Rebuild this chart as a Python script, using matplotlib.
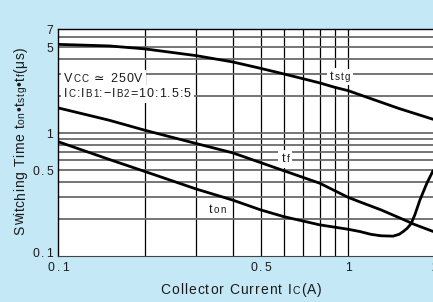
import numpy as np
import matplotlib
matplotlib.use('Agg')
import matplotlib.pyplot as plt
from matplotlib.ticker import NullLocator
from matplotlib.transforms import offset_copy

plt.rcParams['font.family'] = ['Liberation Sans', 'DejaVu Sans']

# curves: Ic (A) -> time (us)
ic_stg = [0.1, 0.15, 0.2, 0.3, 0.4, 0.5, 0.6, 0.7, 0.8, 0.9, 1.0, 1.2, 1.5, 1.97]
t_stg = [5.25, 5.1, 4.82, 4.25, 3.78, 3.35, 3.02, 2.76, 2.55, 2.35, 2.21, 1.9, 1.58, 1.29]

ic_f = [0.1, 0.15, 0.2, 0.3, 0.4, 0.5, 0.6, 0.8, 1.0, 1.1, 1.3, 1.5, 1.7, 1.97]
t_f = [1.6, 1.27, 1.05, 0.82, 0.69, 0.574, 0.494, 0.39, 0.30, 0.275, 0.237, 0.205, 0.18, 0.158]

ic_on = [0.1, 0.15, 0.2, 0.3, 0.4, 0.5, 0.6, 0.8, 1.0, 1.1, 1.2, 1.3, 1.43, 1.5,
         1.55, 1.6, 1.65, 1.7, 1.77, 1.87, 1.97]
t_on = [0.85, 0.61, 0.485, 0.35, 0.285, 0.237, 0.209, 0.179, 0.165, 0.158, 0.15, 0.146,
        0.145, 0.15, 0.158, 0.168, 0.183, 0.216, 0.285, 0.39, 0.5]

x_ticks = [0.1, 0.5, 1, 2]
x_ticklabels = ['0.1', '0.5', '1', '2']
y_ticks = [0.1, 0.5, 1, 5, 7]
y_ticklabels = ['0.1', '0.5', '1', '5', '7']
x_grid = [0.2, 0.3, 0.4, 0.5, 0.6, 0.7, 0.8, 0.9, 1, 2]
y_grid = [0.2, 0.3, 0.4, 0.5, 0.6, 0.7, 0.8, 0.9, 1, 2, 3, 4, 5, 6]

bg = '#c5e8f7'
ink = '#1a1a1a'

fig = plt.figure(figsize=(4.33, 3.02), dpi=100, facecolor=bg)
ax = fig.add_axes([58 / 433, 46 / 302, 377.3 / 433, 227 / 302])
ax.set_facecolor('white')
ax.set_xscale('log')
ax.set_yscale('log')
ax.set_xlim(0.1, 2)
ax.set_ylim(0.1, 7)

for v in x_grid:
    ax.axvline(v, color='black', lw=0.9, zorder=1)
for v in y_grid:
    ax.axhline(v, color='#6a6a6a', lw=1.3, zorder=1)

for xs, ys in [(ic_stg, t_stg), (ic_f, t_f), (ic_on, t_on)]:
    ax.plot(xs, ys, color='black', lw=2.0, zorder=5, solid_capstyle='butt')

ax.xaxis.set_major_locator(NullLocator())
ax.xaxis.set_minor_locator(NullLocator())
ax.yaxis.set_major_locator(NullLocator())
ax.yaxis.set_minor_locator(NullLocator())

for s in ['left', 'top']:
    ax.spines[s].set_color('black')
    ax.spines[s].set_linewidth(1.0)
ax.spines['bottom'].set_color('#444444')
ax.spines['right'].set_visible(False)

renderer = fig.canvas.get_renderer()


def adv(s, fs):
    # advance width of s in points
    a = fig.text(0, 0, '|' + s + '|', fontsize=fs)
    b = fig.text(0, 0, '||', fontsize=fs)
    w = a.get_window_extent(renderer).width - b.get_window_extent(renderer).width
    a.remove()
    b.remove()
    return w * 72 / fig.dpi


def rich(host, x, y, parts, trans, rotation=0, align='left', box=False, track=0.75):
    # letter-spaced text built from pieces of different size on one baseline
    chars = [(c, fs) for s, fs in parts for c in s]
    advs = [adv(c, fs) for c, fs in chars]
    total = sum(advs) + track * (len(chars) - 1)
    start = {'left': 0, 'center': -total / 2, 'right': -total}[align]
    for with_box in ([True, False] if box else [False]):
        off = start
        for (c, fs), a in zip(chars, advs):
            dx, dy = (0, off) if rotation else (off, 0)
            tr = offset_copy(trans, fig=fig, x=dx, y=dy, units='points')
            if with_box:
                host.text(x, y, c, fontsize=fs, transform=tr, ha='left', va='baseline',
                          color='white', zorder=3,
                          bbox=dict(facecolor='white', edgecolor='none', pad=2.4))
            elif c != ' ':
                host.text(x, y, c, fontsize=fs, transform=tr, rotation=rotation,
                          rotation_mode='anchor', ha='left', va='baseline',
                          color=ink, zorder=4)
            off += a + track


# tick labels
xt = offset_copy(ax.get_xaxis_transform(), fig=fig, y=-10.8, units='points')
for v, lab in zip(x_ticks, x_ticklabels):
    rich(fig, v, 0, [(lab, 8.8)], xt, align='center', track=1.4)
for v, lab in zip(y_ticks, y_ticklabels):
    # the bottom label sits a little higher to clear the x labels
    lift = -0.7 if v == min(y_ticks) else -3.3
    yt = offset_copy(ax.get_yaxis_transform(), fig=fig, x=-3.4, y=lift, units='points')
    rich(fig, 0, v, [(lab, 8.8)], yt, align='right', track=1.4)

big, small = 9, 7
rich(ax, 0.105, 2.6, [('V', big), ('CC', small), (' \u2243 250V', big)],
     ax.transData, box=True)
rich(ax, 0.105, 1.96, [('I', big), ('C', small), (':I', big), ('B1', small),
                       (':\u2212I', big), ('B2', small), ('=10:1.5:5', big)],
     ax.transData, box=True)
rich(ax, 0.867, 2.70, [('t', big), ('stg', small)], ax.transData, box=True)
rich(ax, 0.591, 0.581, [('t', big), ('f', small)], ax.transData, box=True)
rich(ax, 0.332, 0.224, [('t', big), ('on', small)], ax.transData)

rich(fig, 241 / 433, 8 / 302, [('Collector Current I', 10), ('C', 7.5), ('(A)', 10)],
     fig.transFigure, align='center', track=0.7)
rich(fig, 24.5 / 433, 161 / 302,
     [('Switching Time t', 10), ('on', 7.5), ('\u2022t', 10), ('stg', 7.5),
      ('\u2022t', 10), ('f', 7.5), ('(\u03bcs)', 10)],
     fig.transFigure, rotation=90, align='center', track=0.4)

fig.savefig('out.png', dpi=100, facecolor=bg)
